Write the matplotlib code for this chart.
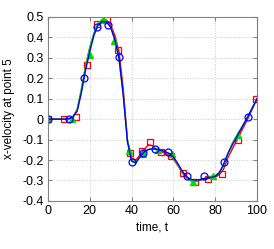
import matplotlib
matplotlib.use("Agg")
import matplotlib.pyplot as plt

# Smooth curves, read every 2 time units
t_line = list(range(0, 101, 2))
blue_line = [0, 0, 0, 0, 0, 0.002, 0.01, 0.04, 0.13, 0.24, 0.33, 0.41, 0.46, 0.478, 0.475,
             0.45, 0.39, 0.30, 0.12, -0.11, -0.205, -0.215, -0.185, -0.16, -0.148, -0.145,
             -0.147, -0.152, -0.158, -0.168, -0.185, -0.215, -0.25, -0.278, -0.293, -0.298,
             -0.297, -0.292, -0.288, -0.285, -0.28, -0.262, -0.22, -0.17, -0.13, -0.092,
             -0.055, -0.018, 0.02, 0.06, 0.1]
red_line = [0, 0, 0, 0, 0, 0.002, 0.012, 0.045, 0.14, 0.26, 0.35, 0.42, 0.465, 0.485, 0.485,
            0.46, 0.41, 0.33, 0.15, -0.10, -0.19, -0.2, -0.175, -0.15, -0.125, -0.13,
            -0.15, -0.16, -0.165, -0.178, -0.195, -0.225, -0.258, -0.285, -0.3, -0.305,
            -0.302, -0.296, -0.292, -0.288, -0.283, -0.272, -0.245, -0.19, -0.15, -0.11,
            -0.07, -0.03, 0.01, 0.055, 0.098]
green_line = [0, 0, 0, 0, 0, 0.002, 0.012, 0.05, 0.15, 0.26, 0.35, 0.42, 0.47, 0.488, 0.48,
              0.45, 0.385, 0.29, 0.12, -0.1, -0.2, -0.21, -0.185, -0.165, -0.15, -0.145,
              -0.148, -0.155, -0.16, -0.17, -0.188, -0.22, -0.255, -0.283, -0.3, -0.306,
              -0.3, -0.292, -0.285, -0.28, -0.275, -0.26, -0.23, -0.17, -0.12, -0.085,
              -0.05, -0.015, 0.02, 0.06, 0.1]

# Marker positions
red_t = [0, 7.7, 13.4, 18.8, 23.4, 28.2, 33.4, 39.2, 45.1, 48.8, 54.1, 58.9, 64.4,
         70.3, 76.5, 83.2, 90.7, 99.4]
red_v = [0, 0, 0.012, 0.265, 0.465, 0.483, 0.34, -0.165, -0.158, -0.113, -0.162, -0.178,
         -0.265, -0.306, -0.295, -0.266, -0.102, 0.097]
green_t = [0, 11.3, 20.1, 26.2, 31.6, 38.8, 45.7, 52.5, 59.3, 69.5, 79.1, 91.0]
green_v = [0, 0.003, 0.314, 0.485, 0.384, -0.154, -0.168, -0.15, -0.17, -0.306, -0.278, -0.077]
blue_t = [0, 10.2, 17.2, 23.6, 28.9, 34.1, 40.0, 45.6, 51.2, 57.6, 66.4, 74.8, 84.4, 95.5]
blue_v = [0, 0.003, 0.2, 0.453, 0.46, 0.303, -0.208, -0.164, -0.146, -0.162, -0.28, -0.28,
          -0.208, 0.012]

xticks = [0, 20, 40, 60, 80, 100]
yticks = [-0.4, -0.3, -0.2, -0.1, 0, 0.1, 0.2, 0.3, 0.4, 0.5]
ytick_labels = ["-0.4", "-0.3", "-0.2", "-0.1", "0", "0.1", "0.2", "0.3", "0.4", "0.5"]

plt.rcParams['font.family'] = ['Liberation Sans', 'DejaVu Sans']

fig = plt.figure(figsize=(2.74, 2.49), dpi=100)
ax = fig.add_axes([0.175, 0.193, 0.763, 0.739])

ax.plot(t_line, red_line, color='red', lw=1.0)
ax.plot(red_t, red_v, 's', mfc='none', mec='red', ms=5, mew=0.9)
ax.plot(t_line, green_line, color='#00dd00', lw=1.0)
ax.plot(green_t, green_v, '^', color='#00dd00', ms=4.5)
ax.plot(t_line, blue_line, color='blue', lw=1.0)
ax.plot(blue_t, blue_v, 'o', mfc='none', mec='blue', ms=5, mew=0.9)

ax.set_xlim(0, 100)
ax.set_ylim(-0.4, 0.5)
ax.set_xticks(xticks)
ax.set_xticklabels([str(x) for x in xticks])
ax.set_yticks(yticks)
ax.set_yticklabels(ytick_labels)
ax.grid(True, linestyle=':', color='#c8c8c8', lw=0.7)
ax.tick_params(direction='in', length=3, color='#808080', labelsize=9,
               top=True, right=True, pad=3)
for s in ax.spines.values():
    s.set_color('#808080')
    s.set_linewidth(0.8)

ax.set_xlabel('time, t', fontsize=8.5, labelpad=3)
ax.set_ylabel('x-velocity at point 5', fontsize=8.5, labelpad=5)

fig.savefig('out.png', dpi=100)
